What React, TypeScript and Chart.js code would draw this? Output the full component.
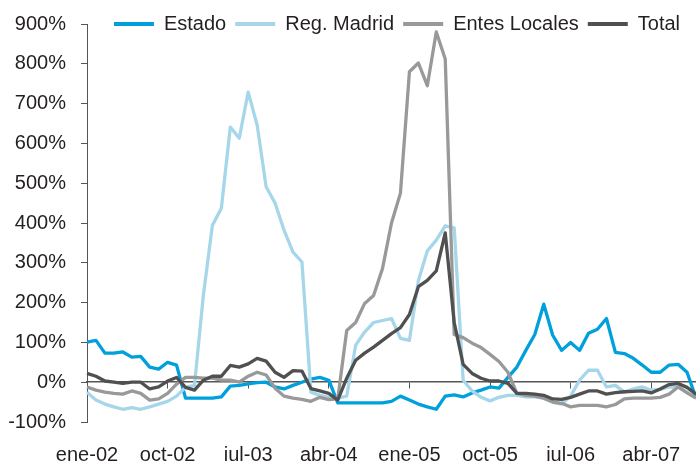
import React, { useEffect, useRef } from 'react';
import { Chart, registerables } from 'chart.js';

Chart.register(...registerables);

// ---------- data ----------
const MONTHS = ['ene', 'feb', 'mar', 'abr', 'may', 'jun', 'jul', 'ago', 'sep', 'oct', 'nov', 'dic'];
const START_YEAR = 2002;
const N_POINTS = 69; // ene-02 .. sep-07
const categories: string[] = Array.from({ length: N_POINTS }, (_, i) =>
  `${MONTHS[i % 12]}-${String((START_YEAR + Math.floor(i / 12)) % 100).padStart(2, '0')}`
);
const LABEL_STEP = 9;

const estado = [
  101, 105, 73, 73, 76, 63, 65, 38, 33, 50, 43,
  -40, -40, -40, -40, -37,
  -10, -8, -4, -1, 0, -12, -17, -8, 0, 8, 12, 5,
  -52, -52, -52, -52, -52, -52,
  -48, -35, -45, -55, -62, -68, -35, -32, -37, -27, -20, -12, -15,
  12, 38, 80, 120, 196, 118, 80, 100, 80, 123, 133, 160,
  75, 72, 60, 43, 25, 25, 43, 45, 25, -40,
];
const regMadrid = [
  -25, -45, -55, -62, -68, -64, -68, -62, -55, -48, -35, -13, -8,
  220, 394, 437, 641, 613, 729, 646, 491, 450, 382, 327, 302,
  -25, -33, -38, -40, -35,
  93, 126, 150, 155, 160, 110, 105,
  255, 330, 357, 393, 388,
  5, -22, -38, -47, -38,
  -33, -33, -37, -37, -40, -50, -55,
  -35, 5, 30, 30, -12, -8, -25, -17, -12, -20, -18, -12, -12, -25, -40,
];
const entesLocales = [
  -12, -20, -25, -28, -30, -22, -28, -45, -42, -28, -5,
  12, 12, 10, 10, 5, 5, 0, 15, 25, 18,
  -15, -35, -40, -43, -48, -38, -44, -42,
  130, 150, 198, 218, 286, 400, 475, 780, 802, 745, 880, 812,
  120, 112, 98, 87, 70, 52, 25,
  -28, -33, -35, -40, -50, -53, -62, -58, -58, -58, -62, -56, -42, -40, -40, -40, -38, -30, -12, -27, -40,
];
const total = [
  22, 15, 3, 0, -3, 0, 0, -17, -12, 3, 12,
  -13, -20, 5, 15, 15, 42, 38, 46, 60, 53,
  25, 12, 29, 28, -16, -22, -28, -45,
  10, 55, 73, 88, 105, 122, 137, 170, 240, 256, 280, 375,
  150, 45, 22, 10, 3, 3, -3,
  -28, -28, -30, -33, -42, -43, -38, -30, -22, -22, -30, -26, -24, -23, -22, -27, -17, -6, -3, -13, -30,
];

const seriesNames = ['Estado', 'Reg. Madrid', 'Entes Locales', 'Total'];
const Y_MIN = -100;
const Y_MAX = 900;
const Y_STEP = 100;

// ---------- style ----------
const COLORS = ['#00A0DC', '#A6D6EA', '#999999', '#505050'];
const TEXT = '#231F20';
const AXIS = '#555555';
const FONT = { family: "'Liberation Sans', Arial, Helvetica, sans-serif", size: 20 };
const LEGEND_PAD = 9;
const LEGEND_SHIFT_X = 5.5;

const legendOverlay = {
  id: 'legendOverlay',
  afterLayout(chart: any) {
    const lg = chart.legend;
    if (lg) {
      lg.top = chart.chartArea.top - LEGEND_PAD - FONT.size / 2;
      lg.height = 50;
      lg.bottom = lg.top + 50;
      lg.left += LEGEND_SHIFT_X;
      lg.right += LEGEND_SHIFT_X;
    }
  },
};

export default function App() {
  const ref = useRef<HTMLCanvasElement | null>(null);

  useEffect(() => {
    if (!ref.current) return;
    const values = [estado, regMadrid, entesLocales, total];
    const chart = new Chart(ref.current, {
      type: 'line',
      data: {
        labels: categories,
        datasets: values.map((d, i) => ({
          label: seriesNames[i],
          data: d,
          borderColor: COLORS[i],
          backgroundColor: COLORS[i],
          borderWidth: 3.3,
          pointRadius: 0,
          pointHoverRadius: 0,
          tension: 0,
          fill: false,
          borderJoinStyle: 'round' as const,
          xAxisID: 'x',
          yAxisID: 'y',
          order: values.length - 1 - i,
        })),
      },
      options: {
        responsive: false,
        animation: false,
        layout: { padding: { left: 8, right: 0, top: 24, bottom: 0 } },
        plugins: {
          tooltip: { enabled: false },
          legend: {
            display: true,
            position: 'top',
            align: 'center',
            fullSize: false,
            maxHeight: 0.0001,
            labels: {
              usePointStyle: true,
              pointStyle: 'line',
              pointStyleWidth: 40,
              padding: LEGEND_PAD,
              font: FONT,
              color: TEXT,
              sort: (a: any, b: any) => a.datasetIndex - b.datasetIndex,
              generateLabels: (c: any) =>
                (Chart.defaults.plugins.legend.labels as any)
                  .generateLabels(c)
                  .map((l: any) => ({ ...l, lineWidth: 4 })),
            },
          },
        },
        scales: {
          y: {
            min: Y_MIN,
            max: Y_MAX,
            ticks: {
              stepSize: Y_STEP,
              callback: (v: any) => `${v}%`,
              font: FONT,
              color: TEXT,
              padding: 15,
            },
            grid: { drawOnChartArea: false, drawTicks: true, tickLength: 6, tickColor: AXIS, tickWidth: 1 },
            border: { display: true, color: AXIS, width: 1 },
            afterFit: (s: any) => {
              s.width = 79;
              s.paddingTop = 0;
              s.paddingBottom = 0;
            },
          },
          x: {
            type: 'category',
            position: { y: 0 } as any,
            ticks: { display: false, autoSkip: false },
            grid: {
              drawOnChartArea: false,
              drawTicks: true,
              tickLength: 6,
              tickWidth: 1,
              tickColor: (c: any) => (c.index % LABEL_STEP === 0 ? AXIS : 'rgba(0,0,0,0)'),
            },
            border: { display: true, color: AXIS, width: 1.5 },
            afterFit: (s: any) => {
              s.paddingLeft = 0;
              s.paddingRight = 0;
            },
          },
          xl: {
            type: 'category',
            axis: 'x',
            position: 'bottom',
            ticks: {
              autoSkip: false,
              maxRotation: 0,
              minRotation: 0,
              padding: 13,
              font: FONT,
              color: TEXT,
              callback: (_v: any, i: number) => (i % LABEL_STEP === 0 ? categories[i] : ''),
            },
            grid: { display: false },
            border: { display: false },
            afterFit: (s: any) => {
              s.height = 39;
              s.paddingLeft = 0;
              s.paddingRight = 0;
            },
          },
        } as any,
      },
      plugins: [legendOverlay],
    });
    return () => chart.destroy();
  }, []);

  return (
    <div style={{ position: 'absolute', left: 0, top: 0, width: 696, height: 461, background: '#fff' }}>
      <canvas ref={ref} width={696} height={461} style={{ display: 'block' }} />
    </div>
  );
}
